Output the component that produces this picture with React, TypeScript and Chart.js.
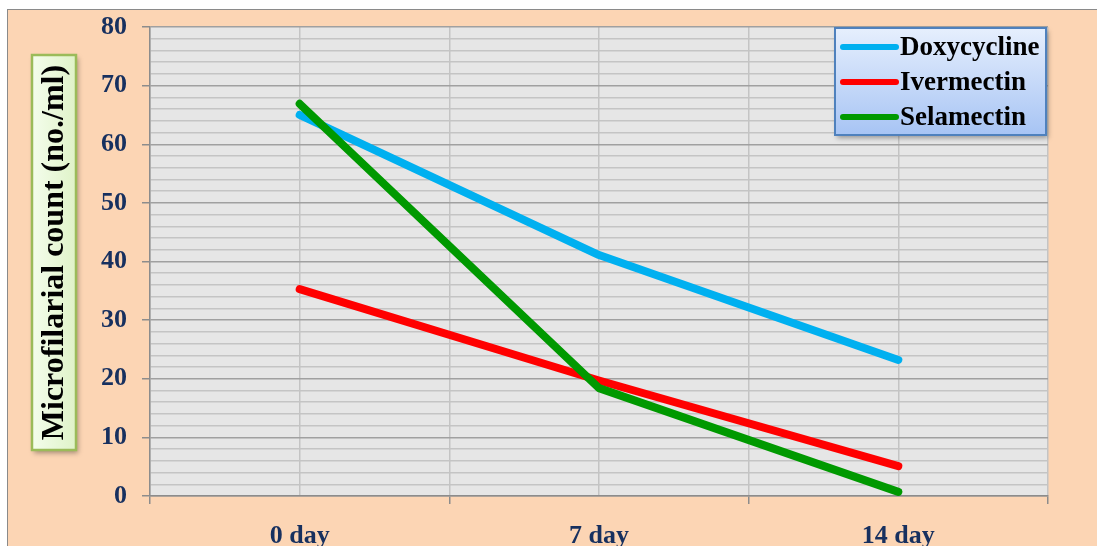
import React, { useEffect, useRef } from "react";
import { Chart, registerables } from "chart.js";

Chart.register(...registerables);

const categories = ["0 day", "7 day", "14 day"];
const seriesNames = ["Doxycycline", "Ivermectin", "Selamectin"];
const doxycycline = [65.0, 41.1, 23.2];
const ivermectin = [35.3, 19.7, 5.1];
const selamectin = [66.9, 18.4, 0.7];
const seriesColors = ["#00B0F0", "#FF0000", "#009900"];
const yTitle = "Microfilarial count (no./ml)";

const SERIF = '"Liberation Serif", "Times New Roman", serif';

const isInt = (v: number) => Math.abs(v - Math.round(v)) < 1e-6;

const plotBg = {
  id: "plotBg",
  beforeDraw(chart: any) {
    const { ctx, chartArea: a } = chart;
    ctx.save();
    ctx.fillStyle = "#E6E6E6";
    ctx.fillRect(a.left, a.top, a.right - a.left, a.bottom - a.top);
    ctx.restore();
  },
};

const overlays = {
  id: "overlays",
  afterDraw(chart: any) {
    const ctx = chart.ctx as CanvasRenderingContext2D;
    // Y title box
    ctx.save();
    const bx = 24, by = 45, bw = 44, bh = 395;
    ctx.shadowColor = "rgba(0,0,0,0.35)";
    ctx.shadowBlur = 5;
    ctx.shadowOffsetX = 2;
    ctx.shadowOffsetY = 3;
    const g = ctx.createLinearGradient(bx, 0, bx + bw, 0);
    g.addColorStop(0, "#F4FDEC");
    g.addColorStop(1, "#DFF3C8");
    ctx.fillStyle = g;
    ctx.fillRect(bx, by, bw, bh);
    ctx.shadowColor = "transparent";
    ctx.strokeStyle = "#9BBB59";
    ctx.lineWidth = 2.5;
    ctx.strokeRect(bx, by, bw, bh);
    ctx.translate(bx + bw / 2 + 1, by + bh / 2);
    ctx.rotate(-Math.PI / 2);
    ctx.fillStyle = "#000";
    ctx.font = `bold 32px ${SERIF}`;
    ctx.textAlign = "center";
    ctx.textBaseline = "middle";
    ctx.fillText(yTitle, 0, 0);
    ctx.restore();

    // Legend box
    ctx.save();
    const lx = 827, ly = 18, lw = 211, lh = 107;
    ctx.shadowColor = "rgba(0,0,0,0.35)";
    ctx.shadowBlur = 5;
    ctx.shadowOffsetX = 2;
    ctx.shadowOffsetY = 3;
    const lg = ctx.createLinearGradient(0, ly, 0, ly + lh);
    lg.addColorStop(0, "#E6EFFD");
    lg.addColorStop(1, "#A7C4F4");
    ctx.fillStyle = lg;
    ctx.fillRect(lx, ly, lw, lh);
    ctx.shadowColor = "transparent";
    ctx.strokeStyle = "#4F81BD";
    ctx.lineWidth = 2;
    ctx.strokeRect(lx, ly, lw, lh);
    const rows = [37, 72, 107];
    ctx.font = `bold 27px ${SERIF}`;
    ctx.textBaseline = "middle";
    ctx.textAlign = "left";
    seriesNames.forEach((name, i) => {
      ctx.strokeStyle = seriesColors[i];
      ctx.lineWidth = 6;
      ctx.lineCap = "round";
      ctx.beginPath();
      ctx.moveTo(835, rows[i]);
      ctx.lineTo(888, rows[i]);
      ctx.stroke();
      ctx.fillStyle = "#000";
      ctx.fillText(name, 892, rows[i] + 1);
    });
    ctx.restore();
  },
};

export default function App() {
  const ref = useRef<HTMLCanvasElement>(null);
  useEffect(() => {
    if (!ref.current) return;
    const mk = (vals: number[]) => vals.map((v, i) => ({ x: i, y: v }));
    const all = [doxycycline, ivermectin, selamectin];
    const chart = new Chart(ref.current, {
      type: "line",
      data: {
        datasets: all.map((vals, i) => ({
          label: seriesNames[i],
          data: mk(vals),
          borderColor: seriesColors[i],
          backgroundColor: seriesColors[i],
          borderWidth: 8,
          borderCapStyle: "round",
          borderJoinStyle: "round",
          pointRadius: 0,
          tension: 0,
          order: 3 - i,
        })) as any,
      },
      options: {
        responsive: false,
        animation: false,
        layout: { padding: { left: 0, top: 17, right: 49, bottom: 0 } },
        plugins: { legend: { display: false }, tooltip: { enabled: false } },
        scales: {
          x: {
            type: "linear",
            min: -0.5,
            max: 2.5,
            afterFit: (s: any) => {
              s.height = 74;
              s.paddingLeft = 0;
              s.paddingRight = 0;
            },
            ticks: {
              stepSize: 0.5,
              autoSkip: false,
              maxRotation: 0,
              padding: 17,
              color: "#17305F",
              font: { family: SERIF, size: 26, weight: "bold" },
              callback: (v: any) => (isInt(Number(v)) ? categories[Math.round(Number(v))] ?? "" : ""),
            },
            grid: {
              color: "#C4C4C4",
              lineWidth: 1.5,
              tickLength: 8,
              tickColor: (c: any) => (c.tick && !isInt(c.tick.value) ? "#8C8C8C" : "rgba(0,0,0,0)"),
            },
            border: { color: "#8C8C8C", width: 1.5 },
          },
          y: {
            min: 0,
            max: 80,
            afterFit: (s: any) => {
              s.width = 142;
              s.paddingTop = 0;
              s.paddingBottom = 0;
            },
            ticks: {
              stepSize: 2,
              autoSkip: false,
              padding: 15,
              color: "#17305F",
              font: { family: SERIF, size: 26, weight: "bold" },
              callback: (v: any) => (Number(v) % 10 === 0 ? String(v) : ""),
            },
            grid: {
              color: (c: any) => (c.tick && c.tick.value % 10 === 0 ? "#A0A0A0" : "#C4C4C4"),
              lineWidth: 1.5,
              tickLength: 8,
              tickColor: (c: any) => (c.tick && c.tick.value % 10 === 0 ? "#8C8C8C" : "rgba(0,0,0,0)"),
            },
            border: { color: "#8C8C8C", width: 1.5 },
          },
        },
      },
      plugins: [plotBg, overlays],
    });
    return () => chart.destroy();
  }, []);
  return (
    <div
      style={{
        position: "fixed",
        left: 7,
        top: 9,
        width: 1090,
        height: 537,
        borderLeft: "1px solid #8A8A8A",
        borderTop: "1px solid #8A8A8A",
        background: "#FCD5B4",
        overflow: "hidden",
      }}
    >
      <canvas ref={ref} width={1089} height={560} style={{ display: "block" }} />
    </div>
  );
}
